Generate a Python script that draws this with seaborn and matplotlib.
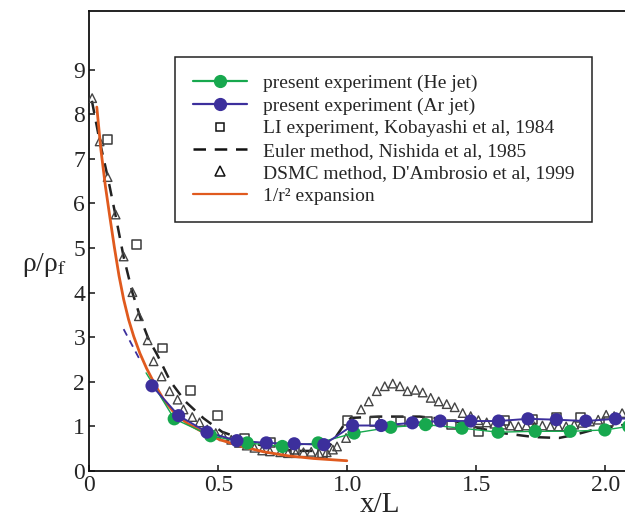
import numpy as np
import pandas as pd
import seaborn as sns
import matplotlib.pyplot as plt
from matplotlib.lines import Line2D

# present experiment, He jet (first point is line start only, no marker)
he_x = [0.22, 0.329, 0.47, 0.612, 0.748, 0.887, 1.026, 1.168, 1.303, 1.444, 1.584, 1.728, 1.864, 1.998, 2.09]
he_y = [2.20, 1.17, 0.79, 0.63, 0.55, 0.63, 0.85, 0.98, 1.04, 0.96, 0.87, 0.89, 0.89, 0.92, 1.00]

# present experiment, Ar jet
ar_x = [0.243, 0.346, 0.456, 0.572, 0.686, 0.794, 0.909, 1.020, 1.131, 1.252, 1.360, 1.478,
        1.586, 1.700, 1.810, 1.924, 2.039, 2.10]
ar_y = [1.91, 1.24, 0.87, 0.68, 0.63, 0.61, 0.59, 1.02, 1.02, 1.08, 1.12, 1.12,
        1.12, 1.17, 1.15, 1.12, 1.17, 1.18]
ar_dash_x = [0.133, 0.197]
ar_dash_y = [3.18, 2.48]

# LI experiment, Kobayashi et al 1984
li_x = [0.071, 0.184, 0.283, 0.393, 0.496, 0.600, 0.702, 0.797, 0.903, 1.000, 1.104, 1.207,
        1.311, 1.405, 1.508, 1.609, 1.717, 1.810, 1.904, 2.011]
li_y = [7.44, 5.07, 2.76, 1.80, 1.24, 0.73, 0.64, 0.48, 0.40, 1.14, 1.11, 1.11,
        1.11, 1.05, 0.89, 1.14, 1.15, 1.20, 1.20, 1.11]

# Euler method, Nishida et al 1985
eu_x = [0.010, 0.040, 0.071, 0.102, 0.133, 0.167, 0.200, 0.230, 0.262, 0.314, 0.372, 0.443,
        0.514, 0.585, 0.650, 0.720, 0.800, 0.880, 0.930, 0.983, 1.014, 1.120, 1.280, 1.400,
        1.510, 1.600, 1.725, 1.820, 1.880, 1.957, 2.034, 2.090]
eu_y = [8.30, 7.40, 6.60, 5.72, 4.80, 4.00, 3.40, 2.95, 2.62, 2.01, 1.56, 1.18,
        0.88, 0.73, 0.60, 0.50, 0.45, 0.45, 0.55, 1.00, 1.19, 1.22, 1.22, 1.15,
        0.96, 0.85, 0.76, 0.74, 0.81, 0.93, 1.00, 1.05]

# DSMC method, D'Ambrosio et al 1999
ds_x = [0.011, 0.040, 0.071, 0.102, 0.133, 0.167, 0.192, 0.226, 0.249, 0.280, 0.311, 0.342,
        0.365, 0.399, 0.427, 0.457, 0.490, 0.520, 0.550, 0.580, 0.610, 0.640, 0.670, 0.700,
        0.740, 0.770, 0.800, 0.830, 0.860, 0.890, 0.920, 0.944, 0.960, 0.995, 1.020, 1.053,
        1.083, 1.114, 1.145, 1.176, 1.204, 1.233, 1.264, 1.292, 1.323, 1.354, 1.385, 1.416,
        1.447, 1.478, 1.508, 1.540, 1.570, 1.600, 1.632, 1.663, 1.694, 1.725, 1.756, 1.787,
        1.818, 1.848, 1.879, 1.910, 1.940, 1.972, 2.003, 2.034, 2.065]
ds_y = [8.36, 7.39, 6.59, 5.75, 4.81, 4.01, 3.47, 2.93, 2.46, 2.12, 1.79, 1.60,
        1.38, 1.21, 1.09, 0.93, 0.85, 0.78, 0.70, 0.63, 0.57, 0.52, 0.46, 0.44,
        0.42, 0.40, 0.40, 0.42, 0.43, 0.40, 0.42, 0.48, 0.55, 0.74, 0.96, 1.38,
        1.56, 1.79, 1.90, 1.96, 1.90, 1.79, 1.82, 1.76, 1.64, 1.56, 1.50, 1.43,
        1.30, 1.23, 1.14, 1.09, 1.06, 1.04, 1.02, 1.00, 1.02, 1.00, 1.02, 1.00,
        1.00, 1.00, 1.04, 1.08, 1.11, 1.15, 1.26, 1.23, 1.30]

# 1/r^2 expansion
ex_x = [0.029, 0.045, 0.062, 0.080, 0.097, 0.115, 0.133, 0.152, 0.172, 0.196, 0.222, 0.255,
        0.288, 0.330, 0.379, 0.440, 0.507, 0.590, 0.676, 0.770, 0.870, 0.998]
ex_y = [8.16, 7.20, 6.40, 5.68, 5.02, 4.38, 3.85, 3.40, 3.02, 2.64, 2.30, 1.93,
        1.60, 1.30, 1.07, 0.87, 0.70, 0.55, 0.43, 0.34, 0.28, 0.23]

labels = ["present experiment (He jet)", "present experiment (Ar jet)",
          "LI experiment, Kobayashi et al, 1984", "Euler method, Nishida et al, 1985",
          "DSMC method, D'Ambrosio et al, 1999", "1/r\u00b2 expansion"]

green = "#17a84e"
blue = "#3c2f9c"
orange = "#e05a1e"
gray = "#3a3a3a"

sns.set_style("ticks")
plt.rcParams["font.family"] = ["Liberation Serif", "DejaVu Serif"]
plt.rcParams["mathtext.fontset"] = "stix"

fig = plt.figure(figsize=(6.25, 5.19), dpi=100)
ax = fig.add_axes([0.1429, 0.0925, 0.8571, 0.886])

sns.lineplot(x=eu_x, y=eu_y, ax=ax, color="#222222", lw=1.8, sort=False,
             linestyle=(0, (5, 3.5)), zorder=2)
sns.scatterplot(x=ds_x, y=ds_y, ax=ax, marker="^", s=38, facecolor="none",
                edgecolor="#444444", linewidth=1.0, zorder=3)
sns.scatterplot(x=li_x, y=li_y, ax=ax, marker="s", s=40, facecolor="none",
                edgecolor=gray, linewidth=1.1, zorder=3)
sns.lineplot(x=ex_x, y=ex_y, ax=ax, color=orange, lw=2.0, sort=False, zorder=4)
sns.lineplot(x=ar_dash_x, y=ar_dash_y, ax=ax, color=blue, lw=1.3, sort=False,
             linestyle=(0, (4, 3)), zorder=4)
sns.lineplot(x=he_x, y=he_y, ax=ax, color=green, lw=1.0, sort=False, zorder=5)
sns.scatterplot(x=he_x[1:], y=he_y[1:], ax=ax, color=green, s=90, edgecolor="none", zorder=6)
sns.lineplot(x=ar_x, y=ar_y, ax=ax, color=blue, lw=1.4, sort=False, zorder=5)
sns.scatterplot(x=ar_x[:-1], y=ar_y[:-1], ax=ax, color=blue, s=90, edgecolor="none", zorder=6)

ax.set_xlim(0, 2.076)
ax.set_ylim(0, 10.31)
ax.set_xticks([0, 0.5, 1.0, 1.5, 2.0])
ax.set_xticklabels(["0", "0.5", "1.0", "1.5", "2.0"])
ax.set_yticks(range(10))
ax.tick_params(direction="in", length=4, width=1.2, labelsize=17, pad=3)
for s in ["left", "bottom", "top"]:
    ax.spines[s].set_linewidth(1.3)
    ax.spines[s].set_color("#111111")
ax.spines["right"].set_visible(False)

ax.set_xlabel("x/L", fontsize=21, va="bottom")
ax.xaxis.set_label_coords(0.543, -0.102)
ax.set_ylabel("\u03c1/\u03c1$_\\mathrm{f}$", fontsize=20, rotation=0, ha="center", va="center")
ax.yaxis.set_label_coords(-0.083, 0.448)

handles = [
    Line2D([], [], color=green, lw=1.6, marker="o", markersize=8.5),
    Line2D([], [], color=blue, lw=1.6, marker="o", markersize=8.5),
    Line2D([], [], ls="none", marker="s", markersize=6, mfc="none", mec="#111111", mew=1.1),
    Line2D([], [], color="#111111", lw=1.8, ls=(0, (5, 3.5))),
    Line2D([], [], ls="none", marker="^", markersize=6.5, mfc="none", mec="#111111", mew=1.1),
    Line2D([], [], color=orange, lw=1.6),
]
leg = ax.legend(handles, labels, loc="upper left", bbox_to_anchor=(0.16, 0.90),
                fontsize=14, frameon=True, fancybox=False, edgecolor="#222222",
                framealpha=1, handlelength=2.8, handletextpad=0.8, labelspacing=0.25,
                borderpad=0.9, borderaxespad=0)
leg.get_frame().set_linewidth(1.1)

fig.savefig("out.png", dpi=100)
